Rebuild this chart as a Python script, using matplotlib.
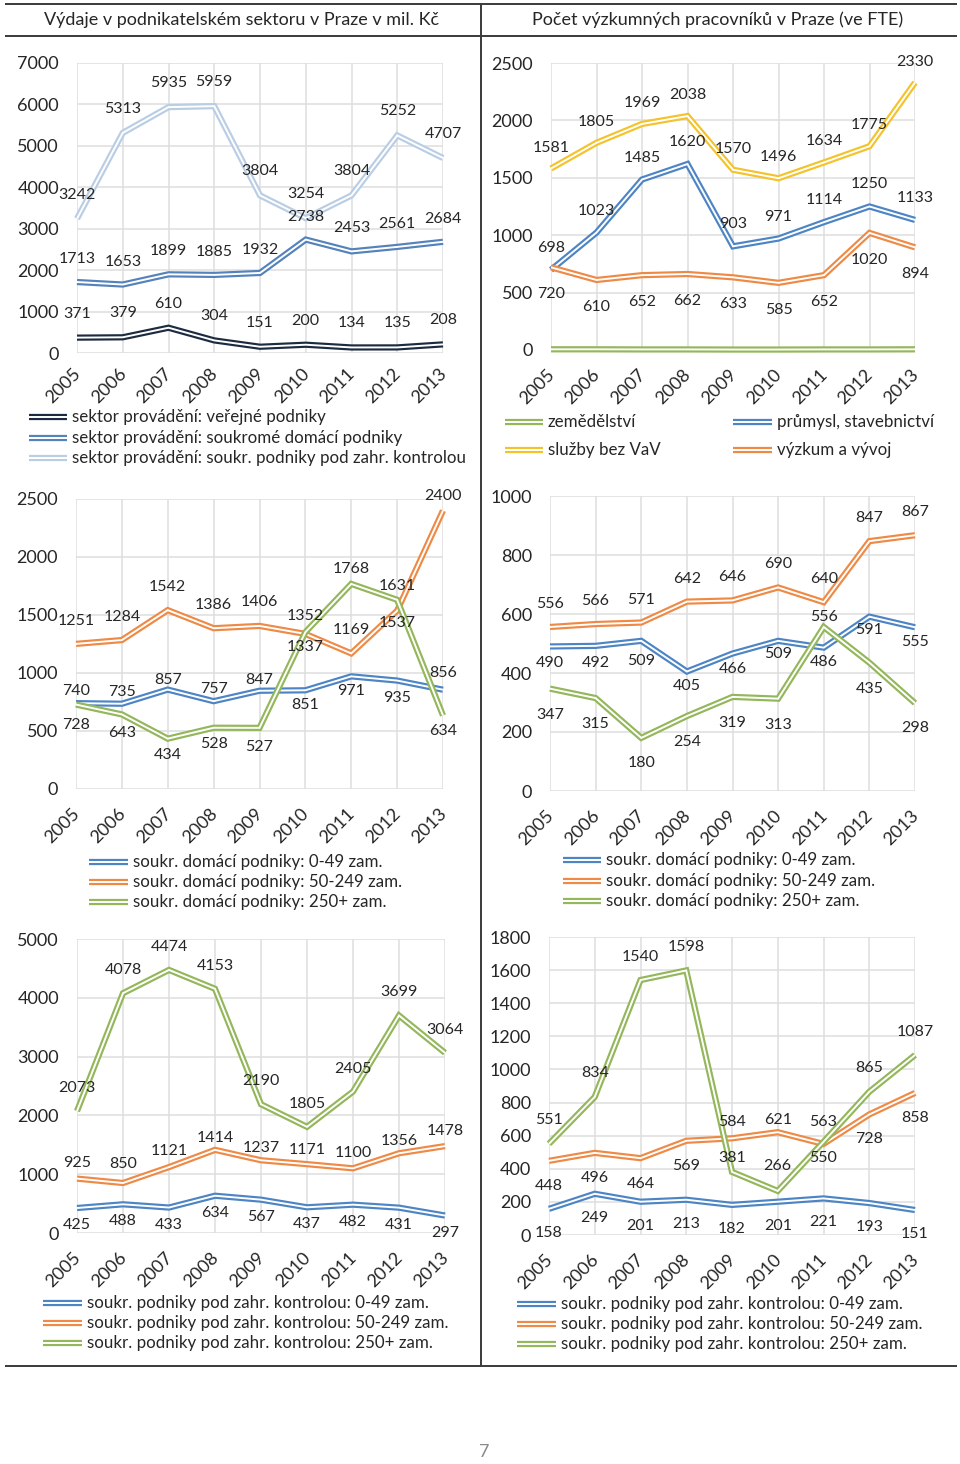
import matplotlib
matplotlib.use('Agg')
import matplotlib.pyplot as plt
from matplotlib.transforms import ScaledTranslation

plt.rcParams['font.family'] = ['Lato', 'DejaVu Sans']

W, H, DPI = 960, 1464, 100
TXT = '#262626'

years = ['2005', '2006', '2007', '2008', '2009', '2010', '2011', '2012', '2013']

# Panel 1: expenditure by sector (mil. Kč)
exp_public = [371, 379, 610, 304, 151, 200, 134, 135, 208]
exp_domestic = [1713, 1653, 1899, 1885, 1932, 2738, 2453, 2561, 2684]
exp_foreign = [3242, 5313, 5935, 5959, 3804, 3254, 3804, 5252, 4707]

# Panel 2: researchers (FTE) by branch
fte_agri = [6, 6, 5, 5, 4, 4, 5, 5, 6]
fte_industry = [698, 1023, 1485, 1620, 903, 971, 1114, 1250, 1133]
fte_services = [1581, 1805, 1969, 2038, 1570, 1496, 1634, 1775, 2330]
fte_rd = [720, 610, 652, 662, 633, 585, 652, 1020, 894]

# Panel 3: expenditure, domestic firms by size
exp_dom_small = [740, 735, 857, 757, 847, 851, 971, 935, 856]
exp_dom_medium = [1251, 1284, 1542, 1386, 1406, 1337, 1169, 1537, 2400]
exp_dom_large = [728, 643, 434, 528, 527, 1352, 1768, 1631, 634]

# Panel 4: researchers, domestic firms by size
fte_dom_small = [490, 492, 509, 405, 466, 509, 486, 591, 555]
fte_dom_medium = [556, 566, 571, 642, 646, 690, 640, 847, 867]
fte_dom_large = [347, 315, 180, 254, 319, 313, 556, 435, 298]

# Panel 5: expenditure, foreign-controlled firms by size
exp_for_small = [425, 488, 433, 634, 567, 437, 482, 431, 297]
exp_for_medium = [925, 850, 1121, 1414, 1237, 1171, 1100, 1356, 1478]
exp_for_large = [2073, 4078, 4474, 4153, 2190, 1805, 2405, 3699, 3064]

# Panel 6: researchers, foreign-controlled firms by size
fte_for_small = [158, 249, 201, 213, 182, 201, 221, 193, 151]
fte_for_medium = [448, 496, 464, 569, 584, 621, 550, 728, 858]
fte_for_large = [551, 834, 1540, 1598, 381, 266, 563, 865, 1087]

title_left = 'Výdaje v podnikatelském sektoru v Praze v mil. Kč'
title_right = 'Počet výzkumných pracovníků v Praze (ve FTE)'

leg1 = ['sektor provádění: veřejné podniky',
        'sektor provádění: soukromé domácí podniky',
        'sektor provádění: soukr. podniky pod zahr. kontrolou']
leg2 = ['zemědělství', 'průmysl, stavebnictví', 'služby bez VaV', 'výzkum a vývoj']
leg_dom = ['soukr. domácí podniky: 0-49 zam.',
           'soukr. domácí podniky: 50-249 zam.',
           'soukr. domácí podniky: 250+ zam.']
leg_for = ['soukr. podniky pod zahr. kontrolou: 0-49 zam.',
           'soukr. podniky pod zahr. kontrolou: 50-249 zam.',
           'soukr. podniky pod zahr. kontrolou: 250+ zam.']

# colours
NAVY = '#1d2b40'
MBLUE = '#5482bb'
LBLUE = '#b9cde4'
BLUE = '#4d85c4'
ORANGE = '#ee8a45'
GREEN = '#93b75a'
YELLOW = '#f4c22a'

LW_OUT, LW_IN = 4.5, 1.4
FS_TICK, FS_LAB, FS_LEG, FS_TITLE = 13, 11.5, 12.2, 13

fig = plt.figure(figsize=(W / DPI, H / DPI), dpi=DPI)
fig.patch.set_facecolor('white')


def make_ax(x0, x1, ytop, ybot, ymax, ystep, xlab_off):
    ax = fig.add_axes([x0 / W, 1 - ybot / H, (x1 - x0) / W, (ybot - ytop) / H])
    ax.set_xlim(0, len(years) - 1)
    ax.set_ylim(0, ymax)
    for s in ax.spines.values():
        s.set_visible(False)
    ax.set_xticks(range(len(years)))
    ax.set_xticklabels([])
    yt = list(range(0, ymax + 1, ystep))
    ax.set_yticks(yt)
    ax.set_yticklabels([str(v) for v in yt])
    ax.tick_params(axis='both', length=0, labelsize=FS_TICK, labelcolor=TXT)
    ax.tick_params(axis='y', pad=13)
    ax.grid(True, color='#dedede', lw=1.1)
    ax.set_axisbelow(True)
    tr = ax.get_xaxis_transform() + ScaledTranslation(1 / DPI, -xlab_off / DPI, fig.dpi_scale_trans)
    for i, y in enumerate(years):
        ax.text(i, 0, y, transform=tr, rotation=45, rotation_mode='anchor',
                ha='right', va='center', fontsize=FS_TICK, color=TXT)
    return ax


def dline(ax, vals, color, z, offs=None, labels=True):
    xs = list(range(len(vals)))
    ax.plot(xs, vals, color=color, lw=LW_OUT, zorder=z, clip_on=False,
            solid_joinstyle='miter', solid_capstyle='butt')
    ax.plot(xs, vals, color='white', lw=LW_IN, zorder=z + 0.1, clip_on=False,
            solid_joinstyle='miter', solid_capstyle='butt')
    if labels:
        for i, v in enumerate(vals):
            dy = offs[i] if isinstance(offs, list) else offs
            ax.annotate(str(v), (i, v), xytext=(0, dy * 0.72), textcoords='offset points',
                        ha='center', va='center', fontsize=FS_LAB, color=TXT, zorder=10,
                        annotation_clip=False)


# ---- Panel 1
ax1 = make_ax(77, 443, 63, 353, 7000, 1000, 18)
dline(ax1, exp_public, NAVY, 3, 24)
dline(ax1, exp_domestic, MBLUE, 4, 23)
dline(ax1, exp_foreign, LBLUE, 5, 24)

# ---- Panel 2
ax2 = make_ax(551, 915, 63, 350, 2500, 500, 22)
dline(ax2, fte_agri, GREEN, 3, labels=False)
dline(ax2, fte_industry, BLUE, 4, 22)
dline(ax2, fte_services, YELLOW, 5, 21)
dline(ax2, fte_rd, ORANGE, 6, -27)

# ---- Panel 3
ax3 = make_ax(76, 443, 499, 789, 2500, 500, 22)
dline(ax3, exp_dom_small, BLUE, 3, [12, 12, 10, 12, 11, -15, -15, -17, 17])
dline(ax3, exp_dom_medium, ORANGE, 4, [23, 23, 23, 23, 24, -13, 23, -12, 15])
dline(ax3, exp_dom_large, GREEN, 5, [-20, -19, -16, -16, -19, 16, 15, 14, -16])

# ---- Panel 4
ax4 = make_ax(550, 915, 496, 791, 1000, 200, 22)
dline(ax4, fte_dom_small, BLUE, 3, [-17, -17, -20, -14, -15, -13, -14, -13, -15])
dline(ax4, fte_dom_medium, ORANGE, 4, 23)
dline(ax4, fte_dom_large, GREEN, 5, [-26, -26, -25, -26, -26, -26, 10, -26, -25])

# ---- Panel 5
ax5 = make_ax(77, 445, 939, 1233, 5000, 1000, 22)
dline(ax5, exp_for_small, BLUE, 3, -17)
dline(ax5, exp_for_medium, ORANGE, 4, [16, 19, 16, 12, 12, 14, 15, 12, 15])
dline(ax5, exp_for_large, GREEN, 5, 23)

# ---- Panel 6
ax6 = make_ax(549, 915, 937, 1235, 1800, 200, 22)
dline(ax6, fte_for_small, BLUE, 3, -24)
dline(ax6, fte_for_medium, ORANGE, 4, [-25, -25, -26, -25, 16, 12, -14, -25, -25])
dline(ax6, fte_for_large, GREEN, 5, [24, 24, 23, 23, 14, 25, 20, 24, 23])

# ---- overlay in pixel coordinates
ov = fig.add_axes([0, 0, 1, 1])
ov.set_xlim(0, W)
ov.set_ylim(H, 0)
ov.axis('off')
ov.patch.set_visible(False)

frame_kw = dict(color='#3a3a3a', lw=1.4, solid_capstyle='butt')
ov.plot([5, 957], [4, 4], **frame_kw)
ov.plot([5, 957], [36, 36], **frame_kw)
ov.plot([5, 957], [1366, 1366], **frame_kw)
ov.plot([481, 481], [4, 1366], **frame_kw)

ov.text(242, 20, title_left, ha='center', va='center', fontsize=FS_TITLE, color=TXT)
ov.text(718, 20, title_right, ha='center', va='center', fontsize=FS_TITLE, color=TXT)
ov.text(484, 1452, '7', ha='center', va='center', fontsize=13, color='#8a8a8a')


def leg_entry(x0, x1, y, color, text):
    ov.plot([x0, x1], [y, y], color=color, lw=LW_OUT, solid_capstyle='butt')
    ov.plot([x0, x1], [y, y], color='white', lw=LW_IN, solid_capstyle='butt')
    ov.text(x1 + 5, y, text, ha='left', va='center', fontsize=FS_LEG, color=TXT)


for t, c, y in zip(leg1, [NAVY, MBLUE, LBLUE], [417, 438, 458]):
    leg_entry(29, 67, y, c, t)

leg_entry(505, 543, 422, GREEN, leg2[0])
leg_entry(733, 772, 422, BLUE, leg2[1])
leg_entry(505, 543, 450, YELLOW, leg2[2])
leg_entry(733, 772, 450, ORANGE, leg2[3])

for t, c, y in zip(leg_dom, [BLUE, ORANGE, GREEN], [862, 882, 902]):
    leg_entry(89, 128, y, c, t)
for t, c, y in zip(leg_dom, [BLUE, ORANGE, GREEN], [860, 881, 901]):
    leg_entry(563, 601, y, c, t)
for t, c, y in zip(leg_for, [BLUE, ORANGE, GREEN], [1303, 1323, 1343]):
    leg_entry(43, 82, y, c, t)
for t, c, y in zip(leg_for, [BLUE, ORANGE, GREEN], [1304, 1324, 1344]):
    leg_entry(517, 556, y, c, t)

fig.savefig('out.png', dpi=DPI, facecolor='white')
